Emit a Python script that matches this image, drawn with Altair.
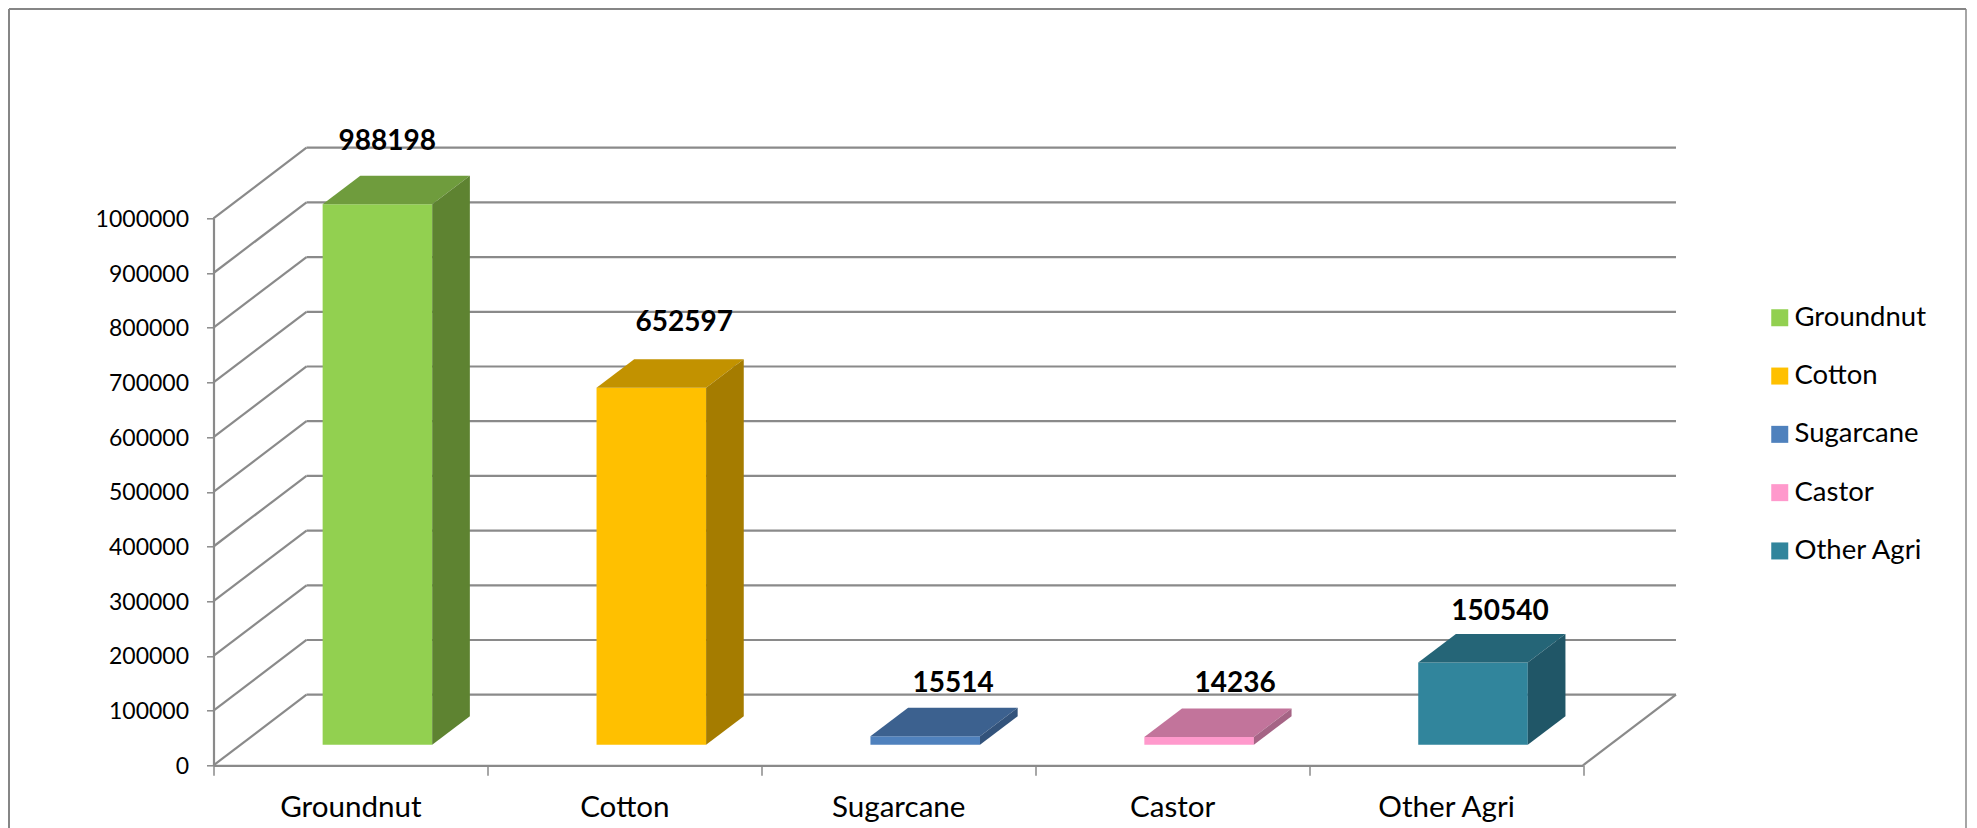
import json
import altair as alt
import pandas as pd

categories = ["Groundnut", "Cotton", "Sugarcane", "Castor", "Other Agri"]
values = [988198, 652597, 15514, 14236, 150540]
front_colors = ["#92D050", "#FFC000", "#4F81BD", "#FF99CC", "#31859C"]
top_colors = ["#6F9C3D", "#C29200", "#3C618F", "#C2749B", "#256577"]
side_colors = ["#5E8331", "#A57C00", "#33537B", "#A56485", "#205667"]
label_dx = [0.134, 0.219, 0.2, 0.23, 0.197]
label_dy = [136665, 141370, 119038, 119768, 115091]
ticks = list(range(0, 1000001, 100000))

# oblique projection constants, in scale units
DX, DY = 0.3395, 129070
Z0, Z1 = 0.29, 0.695         # bar depth range
BAR_W = 0.4

GRAY = "#8A8A8A"
rows_front, rows_top, rows_side, rows_text = [], [], [], []
for i, (c, v) in enumerate(zip(categories, values)):
    left = i + 0.5 - BAR_W / 2 + Z0 * DX
    right = left + BAR_W
    base = Z0 * DY
    rows_front.append(dict(cat=c, x=left, x2=right, y=base, y2=v + base))
    k = Z1 - Z0
    for z in (0.0, k):
        rows_top.append(dict(cat=c, col=top_colors[i], y=v + base + z * DY,
                             x=left + z * DX, x2=right + z * DX))
        rows_side.append(dict(cat=c, col=side_colors[i], x=right + z * DX,
                              y=base + z * DY, y2=v + base + z * DY))
    rows_text.append(dict(x=i + 0.5 + label_dx[i], y=v + label_dy[i], t=str(v)))

lines = []
for t in ticks:
    lines.append(dict(x=DX, x2=5 + DX, y=t + DY, y2=t + DY))
    lines.append(dict(x=0, x2=DX, y=t, y2=t + DY))
lines.append(dict(x=5, x2=5 + DX, y=0, y2=DY))

x_scale = alt.Scale(domain=[0, 5], nice=False, zero=False)
y_scale = alt.Scale(domain=[0, 1000000], nice=False, zero=False)

label_expr = "datum.value % 1 ? " + json.dumps(categories) + "[floor(datum.value)] : ''"
x_axis = alt.Axis(
    title=None, grid=False, values=[k / 2 for k in range(11)], labelExpr=label_expr,
    tickOpacity={"condition": {"test": "datum.value % 1 === 0", "value": 1}, "value": 0},
    tickSize=10, tickColor=GRAY, tickWidth=1.5, domainColor=GRAY, domainWidth=2.2,
    labelFont="Lato", labelFontSize=29.6, labelColor="#000000", labelPadding=18,
    labelOverlap=False, labelFlush=False, labelBound=False, labelAngle=0,
)
y_axis = alt.Axis(
    title=None, grid=False, values=ticks, format="d", tickSize=7, tickColor=GRAY, tickWidth=1.5,
    domainColor=GRAY, domainWidth=2.2, labelFont="Lato", labelFontSize=23, labelColor="#000000",
    labelPadding=18, labelOffset=1, labelOverlap=False, labelFlush=False, labelBound=False,
)

grid = alt.Chart(pd.DataFrame(lines)).mark_rule(color=GRAY, strokeWidth=2.2).encode(
    x=alt.X("x:Q", scale=x_scale, axis=x_axis), x2="x2:Q",
    y=alt.Y("y:Q", scale=y_scale, axis=y_axis), y2="y2:Q",
)

front = alt.Chart(pd.DataFrame(rows_front)).mark_rect().encode(
    x=alt.X("x:Q", scale=x_scale, axis=x_axis), x2="x2:Q",
    y=alt.Y("y:Q", scale=y_scale, axis=y_axis), y2="y2:Q",
    color=alt.Color("cat:N", scale=alt.Scale(domain=categories, range=front_colors), sort=categories,
                    legend=alt.Legend(
                        title=None, orient="none", legendX=1770 - 213.5 - 4, legendY=304 - 218.3,
                        symbolType="square", symbolSize=289, symbolStrokeWidth=0, symbolOpacity=1,
                        labelFont="Lato", labelFontSize=27.5, labelColor="#000000", labelOffset=1,
                        rowPadding=29.3, labelLimit=300, padding=0,
                    )),
)

top = alt.Chart(pd.DataFrame(rows_top)).mark_area(orient="horizontal").encode(
    x=alt.X("x:Q", scale=x_scale, axis=x_axis, stack=None), x2="x2:Q",
    y=alt.Y("y:Q", scale=y_scale, axis=y_axis),
    detail="cat:N",
    fill=alt.Fill("col:N", scale=None),
)

side = alt.Chart(pd.DataFrame(rows_side)).mark_area(orient="vertical").encode(
    x=alt.X("x:Q", scale=x_scale, axis=x_axis),
    y=alt.Y("y:Q", scale=y_scale, axis=y_axis, stack=None), y2="y2:Q",
    detail="cat:N",
    fill=alt.Fill("col:N", scale=None),
)

text = alt.Chart(pd.DataFrame(rows_text)).mark_text(
    font="Lato", fontSize=28, fontWeight="bold", color="#000000", align="center", baseline="alphabetic",
).encode(
    x=alt.X("x:Q", scale=x_scale, axis=x_axis),
    y=alt.Y("y:Q", scale=y_scale, axis=y_axis),
    text="t:N",
)

FL, FT = 205.5, 210.3
frame_left = alt.Chart().mark_rule(color="#868686", strokeWidth=2).encode(
    x=alt.value(1 - FL), y=alt.value(1 - FT), y2=alt.value(820 - FT))
frame_right = alt.Chart().mark_rule(color="#A6A6A6", strokeWidth=2).encode(
    x=alt.value(1958 - FL), y=alt.value(1 - FT), y2=alt.value(820 - FT))
frame_top = alt.Chart().mark_rule(color="#868686", strokeWidth=2).encode(
    y=alt.value(1 - FT), x=alt.value(1 - FL), x2=alt.value(1958 - FL))

chart = alt.layer(grid, front, top, side, text, frame_left, frame_right, frame_top).properties(
    width=1369.5, height=547,
    padding={"left": FL, "top": FT, "right": 386, "bottom": 62.7},
    autosize=alt.AutoSizeParams(type="none"),
    background="#FFFFFF",
).resolve_scale(fill="independent").configure_view(stroke=None)

chart.save("out.html", embed_options={"renderer": "svg", "actions": False})
